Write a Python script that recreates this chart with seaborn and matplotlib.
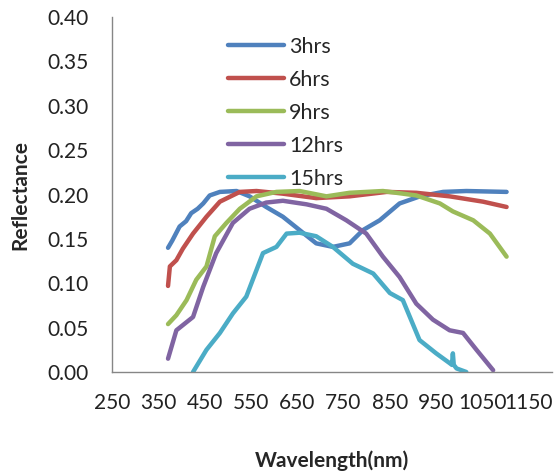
import numpy as np
import pandas as pd
import matplotlib
matplotlib.use("Agg")
import matplotlib.pyplot as plt
import seaborn as sns

# Data
wl_3 = [371, 380, 396, 410, 421, 435, 447, 461, 483, 519, 547, 583, 619, 655, 691, 727, 763, 792, 828, 871, 915, 965, 1015, 1102]
r_3 = [0.140, 0.148, 0.164, 0.170, 0.179, 0.184, 0.190, 0.199, 0.203, 0.204, 0.198, 0.186, 0.175, 0.160, 0.145, 0.141, 0.145, 0.160, 0.171, 0.190, 0.198, 0.203, 0.204, 0.203]

wl_6 = [371, 375, 389, 403, 425, 454, 483, 526, 562, 619, 691, 763, 843, 907, 979, 1051, 1102]
r_6 = [0.097, 0.119, 0.126, 0.139, 0.156, 0.175, 0.192, 0.203, 0.204, 0.201, 0.196, 0.198, 0.203, 0.202, 0.198, 0.192, 0.186]

wl_9 = [371, 389, 411, 432, 454, 472, 497, 526, 562, 605, 655, 713, 763, 835, 907, 958, 986, 1030, 1066, 1102]
r_9 = [0.054, 0.064, 0.081, 0.104, 0.119, 0.153, 0.168, 0.184, 0.198, 0.203, 0.204, 0.198, 0.202, 0.204, 0.199, 0.190, 0.181, 0.171, 0.156, 0.130]

wl_12 = [371, 389, 425, 447, 475, 511, 547, 583, 619, 670, 713, 756, 799, 835, 871, 907, 943, 979, 1008, 1037, 1073]
r_12 = [0.015, 0.047, 0.062, 0.096, 0.134, 0.168, 0.184, 0.191, 0.193, 0.189, 0.184, 0.171, 0.156, 0.130, 0.107, 0.077, 0.059, 0.047, 0.044, 0.025, 0.002]

wl_15 = [425, 454, 483, 511, 540, 576, 605, 627, 655, 691, 727, 770, 814, 850, 878, 914, 950, 979, 984, 986, 988, 994, 1015]
r_15 = [0.000, 0.025, 0.044, 0.066, 0.085, 0.134, 0.141, 0.156, 0.157, 0.153, 0.141, 0.122, 0.111, 0.089, 0.081, 0.036, 0.021, 0.010, 0.008, 0.021, 0.008, 0.004, 0.000]

series = ["3hrs", "6hrs", "9hrs", "12hrs", "15hrs"]
colors = ["#4F81BD", "#C0504D", "#9BBB59", "#8064A2", "#4BACC6"]
y_ticks = [0.00, 0.05, 0.10, 0.15, 0.20, 0.25, 0.30, 0.35, 0.40]
x_ticks = [250, 350, 450, 550, 650, 750, 850, 950, 1050, 1150]

frames = []
for name, wl, r in zip(series, [wl_3, wl_6, wl_9, wl_12, wl_15], [r_3, r_6, r_9, r_12, r_15]):
    frames.append(pd.DataFrame({"Wavelength": wl, "Reflectance": r, "Series": name}))
df = pd.concat(frames, ignore_index=True)

sns.set_style("white")
plt.rcParams["font.family"] = ["Lato", "DejaVu Sans"]

fig = plt.figure(figsize=(5.58, 4.76), dpi=100)
ax = fig.add_axes([0.2007, 0.2185, 0.7885, 0.7455])

sns.lineplot(data=df, x="Wavelength", y="Reflectance", hue="Series",
             hue_order=series, palette=colors, linewidth=3.2,
             sort=False, estimator=None, ax=ax, legend=True)

ax.set_xlim(250, 1200)
ax.set_ylim(0, 0.40)
ax.set_xticks(x_ticks)
ax.set_xticklabels([str(t) for t in x_ticks])
ax.set_yticks(y_ticks)
ax.set_yticklabels([f"{t:.2f}" for t in y_ticks])

for s in ["top", "right"]:
    ax.spines[s].set_visible(False)
for s in ["left", "bottom"]:
    ax.spines[s].set_color("#868686")
    ax.spines[s].set_linewidth(1.0)

ax.tick_params(axis="both", direction="out", width=1.0, color="#868686",
               labelsize=15, labelcolor="#222222")
ax.tick_params(axis="y", length=6, pad=11)
ax.tick_params(axis="x", length=5, pad=10)

ax.set_xlabel("Wavelength(nm)", fontsize=15, fontweight="bold", labelpad=27)
ax.set_ylabel("Reflectance", fontsize=15, fontweight="bold", labelpad=12)

handles, labels = ax.get_legend_handles_labels()
leg = ax.legend(handles, labels, loc="upper left",
                bbox_to_anchor=(228 / 558, 1 - 37 / 476), bbox_transform=fig.transFigure,
                frameon=False, fontsize=15.5, handlelength=2.6, handletextpad=0.25,
                labelspacing=0.6, borderpad=0, borderaxespad=0)
for line in leg.get_lines():
    line.set_linewidth(3.2)

fig.savefig("out.png", dpi=100)
